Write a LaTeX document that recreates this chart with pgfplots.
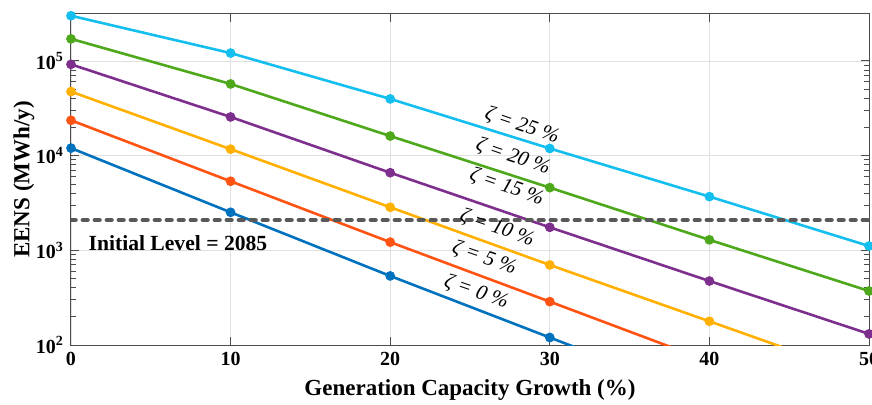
\documentclass[border=0pt]{standalone}
\usepackage{pgfplots}
\pgfplotsset{compat=1.18}
\usepackage{fontspec}
\setmainfont{Liberation Serif}
\definecolor{cA}{HTML}{0072BD}
\definecolor{cB}{HTML}{FF5314}
\definecolor{cC}{HTML}{FFB000}
\definecolor{cD}{HTML}{7E2F8E}
\definecolor{cE}{HTML}{4DA81C}
\definecolor{cF}{HTML}{14BEEE}
\begin{document}
\begin{tikzpicture}
\begin{semilogyaxis}[name=ax, scale only axis, width=399pt, height=165.5pt,
  xmin=0, xmax=50, ymin=100, ymax=3.13e5,
  xtick={0,10,20,30,40,50}, xticklabels={0,10,20,30,40,50},
  ytick={100,1000,10000,100000},
  yticklabels={10\textsuperscript{2},10\textsuperscript{3},10\textsuperscript{4},10\textsuperscript{5}},
  tick label style={font=\fontsize{10}{12}\selectfont\bfseries},
  label style={font=\fontsize{11.5}{13}\selectfont\bfseries},
  xlabel={Generation Capacity Growth (\%)}, ylabel={EENS (MWh/y)},
  every axis y label/.style={at={(axis description cs:-0.037,0.5)}, rotate=90, anchor=south, font=\fontsize{11.5}{13}\selectfont\bfseries},
  grid=major, major grid style={black!12, line width=0.4pt},
  axis line style={draw=black!70, line width=0.5pt},
  tick style={black!70, line width=0.5pt},
  tick align=inside, major tick length=3.8pt, minor tick length=2.6pt,
  clip mode=individual,
  every axis plot/.append style={line width=1.3pt, mark=*, mark size=1.75pt, mark options={solid}},
]
\addplot[cA, mark indices={1,2,3,4}] coordinates {(0,12000) (10,2520) (20,536) (30,120) (40,27)};
\addplot[cB, mark indices={1,2,3,4}] coordinates {(0,23600) (10,5360) (20,1220) (30,287) (40,67)};
\addplot[cC, mark indices={1,2,3,4,5}] coordinates {(0,47400) (10,11700) (20,2850) (30,700) (40,178) (50,45)};
\addplot[cD] coordinates {(0,92000) (10,25600) (20,6600) (30,1750) (40,474) (50,131)};
\addplot[cE] coordinates {(0,171000) (10,57100) (20,16100) (30,4590) (40,1290) (50,372)};
\addplot[cF] coordinates {(0,300000) (10,121000) (20,39700) (30,11900) (40,3690) (50,1110)};
\addplot[black!65, line width=2.4pt, mark=none, line cap=round, dash pattern=on 2.2pt off 3.8pt] coordinates {(0,2085) (50,2085)};
\node[font=\fontsize{10.8}{12}\selectfont\bfseries] at (axis cs:6.7,1195) {Initial Level = 2085};
\begin{scope}[every node/.style={font=\fontsize{10.5}{12}\selectfont\itshape, rotate=-19}]
\node at (axis cs:28.26,20600) {ζ = 25 \%};
\node at (axis cs:27.7,9700) {ζ = 20 \%};
\node at (axis cs:27.3,4670) {ζ = 15 \%};
\node at (axis cs:26.7,1720) {ζ = 10 \%};
\node at (axis cs:25.9,830) {ζ = 5 \%};
\node at (axis cs:25.4,363) {ζ = 0 \%};
\end{scope}
\end{semilogyaxis}
\pgfresetboundingbox
\path ([xshift=-35.5pt,yshift=-29.5pt]ax.south west) rectangle ([xshift=1.5pt,yshift=7pt]ax.north east);
\end{tikzpicture}
\end{document}
